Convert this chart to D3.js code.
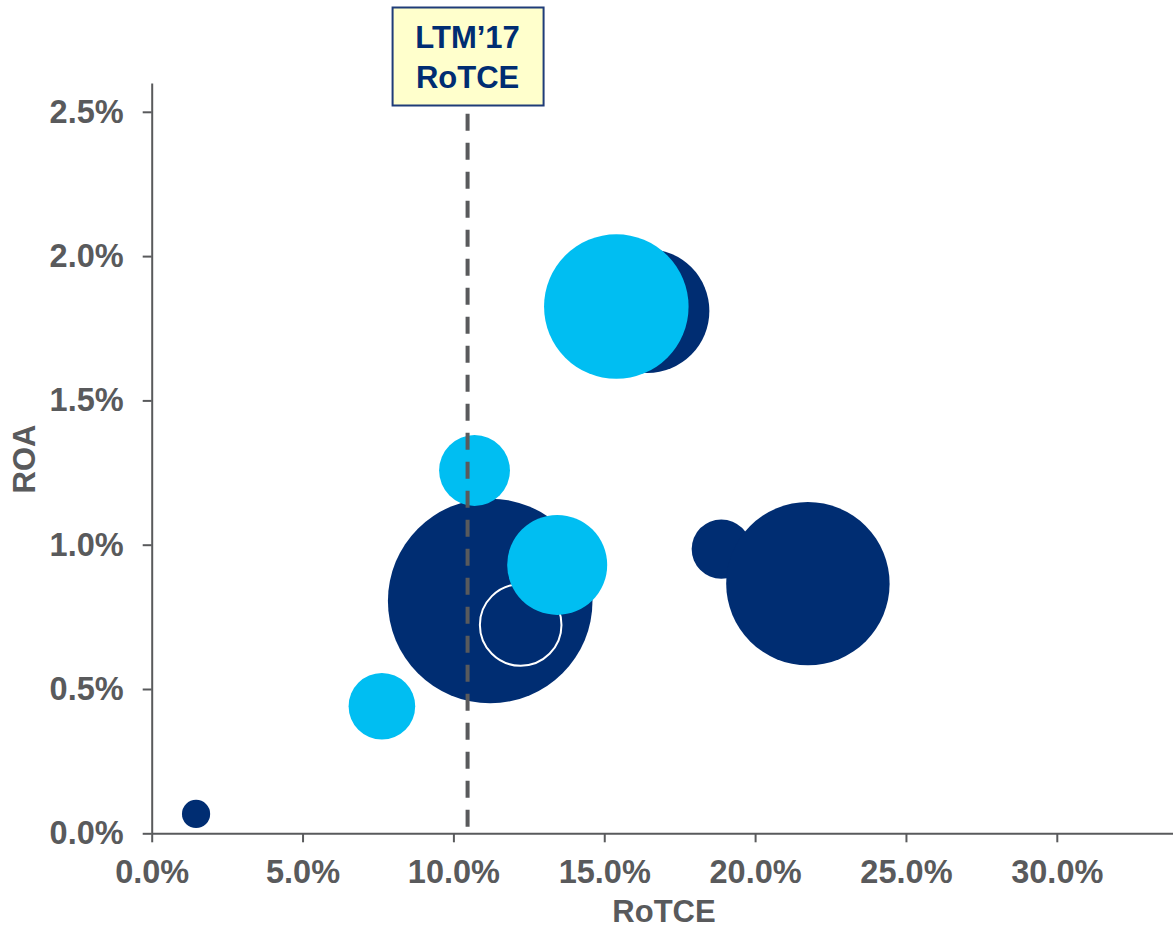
<!DOCTYPE html>
<html>
<head>
<meta charset="utf-8">
<script src="https://cdn.jsdelivr.net/npm/d3@7"></script>
<style>
  body { margin: 0; background: #fff; }
  text { font-family: "Liberation Sans", Arial, sans-serif; font-weight: bold; }
</style>
</head>
<body>
<script>
// data
var rotce = [0.0147, 0.0763, 0.1122, 0.1223, 0.1344, 0.1070, 0.1888, 0.2175, 0.1643, 0.1540];
var roa   = [0.00067, 0.00440, 0.00805, 0.00722, 0.00930, 0.01257, 0.00985, 0.00865, 0.01810, 0.01825];
var size  = [1.9, 10.6, 100, 15.9, 23.9, 12.0, 8.4, 63.8, 36.7, 49.9];
var group = ["peer", "peer2", "peer", "self", "peer2", "peer2", "peer", "peer", "peer", "peer2"];

var xTicks = [0, 0.05, 0.10, 0.15, 0.20, 0.25, 0.30];
var yTicks = [0, 0.005, 0.010, 0.015, 0.020, 0.025];
var ltmRotce = 0.1047;

var outerWidth = 1173;
var outerHeight = 930;

var navy = "#002d72";
var lightBlue = "#00bef2";
var grey = "#595a5c";

var svg = d3.select("body").append("svg")
  .attr("width", outerWidth)
  .attr("height", outerHeight);

//scales
var xScale = d3.scaleLinear().domain([0, 0.35]).range([151.7, 151.7 + 35 * 30.17]);
var yScale = d3.scaleLinear().domain([0, 0.026]).range([833.3, 833.3 - 2.6 * 288.6]);
var rScale = d3.scaleSqrt().domain([0, 100]).range([0, 102.3]);

var pct = d3.format(".1%");

//bubbles (drawn in list order, back to front)
var data = rotce.map(function(v, i){
  return {x: v, y: roa[i], s: size[i], g: group[i]};
});

svg.append("g").selectAll("circle")
  .data(data)
  .enter()
  .append("circle")
  .attr("cx", (d)=>xScale(d.x))
  .attr("cy", (d)=>yScale(d.y))
  .attr("r", (d)=>rScale(d.s))
  .attr("fill", (d)=>d.g == "peer2" ? lightBlue : navy)
  .attr("stroke", (d)=>d.g == "self" ? "#fff" : "none")
  .attr("stroke-width", 2);

//axes
var xAxis = svg.append("g")
  .attr("transform", "translate(0," + yScale(0) + ")")
  .call(d3.axisBottom(xScale).tickValues(xTicks).tickFormat(pct).tickSize(9).tickPadding(18).tickSizeOuter(0));

var yAxis = svg.append("g")
  .attr("transform", "translate(" + xScale(0) + ",0)")
  .call(d3.axisLeft(yScale).tickValues(yTicks).tickFormat(pct).tickSize(9).tickPadding(19).tickSizeOuter(0));

[xAxis, yAxis].forEach(function(a){
  a.select(".domain").attr("stroke", grey).attr("stroke-width", 2);
  a.selectAll(".tick line").attr("stroke", grey).attr("stroke-width", 2);
  a.selectAll(".tick text")
    .attr("fill", grey)
    .style("font-size", "32.5px")
    .style("font-family", "'Liberation Sans', Arial, sans-serif")
    .style("font-weight", "bold");
});

//dashed LTM line
svg.append("line")
  .attr("x1", xScale(ltmRotce))
  .attr("x2", xScale(ltmRotce))
  .attr("y1", yScale(0.025) + 2)
  .attr("y2", yScale(0))
  .attr("stroke", grey)
  .attr("stroke-width", 4)
  .attr("stroke-dasharray", "17,12");

//label box
var bx = xScale(ltmRotce);
svg.append("rect")
  .attr("x", bx - 75)
  .attr("y", 7.5)
  .attr("width", 151)
  .attr("height", 98)
  .attr("fill", "#ffffcc")
  .attr("stroke", "#1f3c78")
  .attr("stroke-width", 2);

svg.append("text")
  .attr("x", bx)
  .attr("y", 48)
  .attr("text-anchor", "middle")
  .attr("fill", navy)
  .style("font-size", "31px")
  .text("LTM\u201917");

svg.append("text")
  .attr("x", bx)
  .attr("y", 88)
  .attr("text-anchor", "middle")
  .attr("fill", navy)
  .style("font-size", "31px")
  .text("RoTCE");

//axis titles
svg.append("text")
  .attr("x", 664)
  .attr("y", 922)
  .attr("text-anchor", "middle")
  .attr("fill", grey)
  .style("font-size", "31px")
  .text("RoTCE");

svg.append("text")
  .attr("transform", "translate(35,459) rotate(-90)")
  .attr("text-anchor", "middle")
  .attr("fill", grey)
  .style("font-size", "31px")
  .text("ROA");
</script>
</body>
</html>
